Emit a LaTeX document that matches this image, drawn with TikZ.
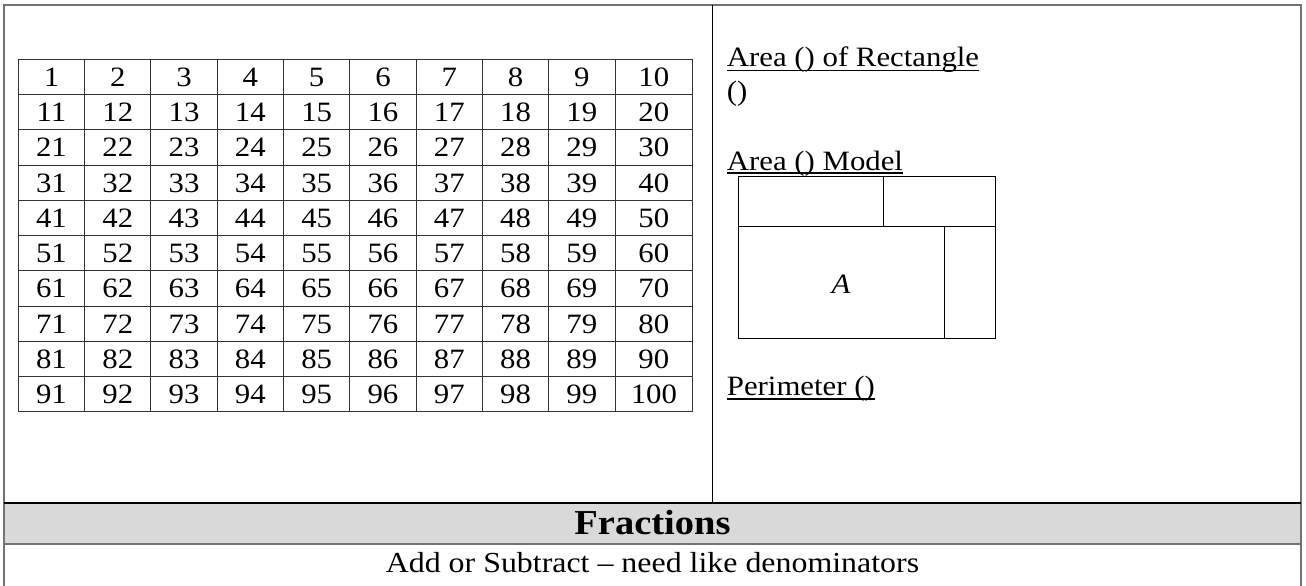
\documentclass[tikz,border=0pt]{standalone}
\usepackage{fontspec}
\setmainfont{Liberation Serif}[FakeStretch=1.1]
\usetikzlibrary{positioning}
\begin{document}
\begin{tikzpicture}[x=1pt, y=-1pt,
  every node/.style = {inner sep=0pt, font=\fontsize{28}{33}\selectfont},
  frame/.style = {draw=black!55, line width=1.5pt},
  cell/.style = {draw=black!80, line width=0.9pt, minimum height=35.24pt,
    text height=19pt, text depth=0pt, anchor=center},
  label/.style = {anchor=base west},
  uline/.style = {line width=1.2pt}]
  \useasboundingbox (0,0) rectangle (1306,586);
  % grey heading band
  \fill[black!15] (4,503) rectangle (1301,544);
  \draw[frame] (4,590) -- (4,5) -- (1301,5) -- (1301,590);
  \draw[line width=1.2pt] (4,503) -- (1301,503);
  \draw[frame] (4,544) -- (1301,544);
  \draw[line width=1pt] (712,5) -- (712,503);
  % hundred chart
  \foreach \r in {0,...,9}
    \foreach \c in {1,...,10} {
      \pgfmathtruncatemacro\n{10*\r+\c}
      \ifnum\c<10
        \node[cell, minimum width=66.3pt] (n\n) at ({18.3+66.3*(\c-0.5)},{76.9+35.24*\r}) {\n};
      \else
        \node[cell, minimum width=77.7pt] (n\n) at (653.85,{76.9+35.24*\r}) {\n};
      \fi
    }
  % right panel
  \node[label] (arearect) at (726.7,66.7) {Area () of Rectangle};
  \draw[uline] ([yshift=-4pt]arearect.base west) -- ([yshift=-4pt]arearect.base east);
  \node[label] (parens) at (726.7,100) {()};
  \node[label] (areamodel) at (726.7,170) {Area () Model};
  \draw[uline] ([yshift=-3pt]areamodel.base west) -- ([yshift=-3pt]areamodel.base east);
  \coordinate (m1) at (738.3,176.7);
  \coordinate (m2) at (995.7,338.7);
  \draw[line width=1pt] (m1) rectangle (m2);
  \draw[line width=1pt] (738.3,226.7) -- (995.7,226.7);
  \draw[line width=1pt] (883,176.7) -- (883,226.7);
  \draw[line width=1pt] (944,226.7) -- (944,338.7);
  \node (A) at (841,284) {\textit{A}};
  \node[label] (perim) at (726.7,395) {Perimeter ()};
  \draw[uline] ([yshift=-4pt]perim.base west) -- ([yshift=-4pt]perim.base east);
  % fractions
  \node[anchor=base, font=\fontsize{35}{40}\selectfont\bfseries] (fractions) at (652.5,534) {Fractions};
  \node[anchor=base, font=\fontsize{29}{34}\selectfont] (addsub) at (652.5,572)
    {Add or Subtract -- need like denominators};
\end{tikzpicture}
\end{document}
